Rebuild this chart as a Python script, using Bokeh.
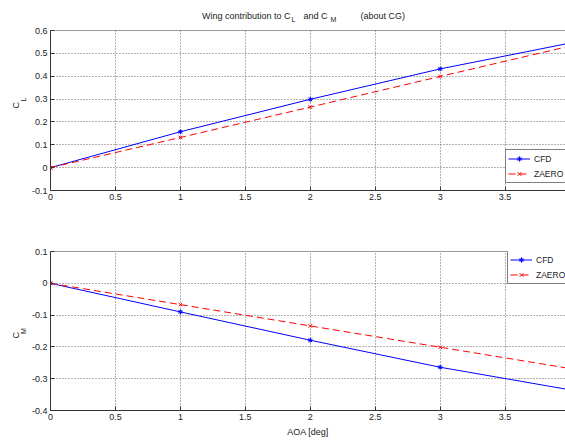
from bokeh.plotting import figure
from bokeh.layouts import column, row
from bokeh.models import (Label, Legend, LegendItem, FixedTicker, Range1d, Span)
from bokeh.embed import file_html
from bokeh.resources import INLINE

# ---- data ----
aoa = [0, 1, 2, 3, 4]
cl_cfd = [0.0, 0.157, 0.299, 0.432, 0.545]
cl_zaero = [0.0, 0.132, 0.265, 0.399, 0.532]
cm_cfd = [0.0, -0.090, -0.179, -0.264, -0.335]
cm_zaero = [0.0, -0.067, -0.134, -0.201, -0.268]

x_ticks = [0, 0.5, 1, 1.5, 2, 2.5, 3, 3.5, 4]
x_tick_labels = ["0", "0.5", "1", "1.5", "2", "2.5", "3", "3.5", "4"]
cl_ticks = [-0.1, 0, 0.1, 0.2, 0.3, 0.4, 0.5, 0.6]
cl_tick_labels = ["-0.1", "0", "0.1", "0.2", "0.3", "0.4", "0.5", "0.6"]
cm_ticks = [-0.4, -0.3, -0.2, -0.1, 0, 0.1]
cm_tick_labels = ["-0.4", "-0.3", "-0.2", "-0.1", "0", "0.1"]

title_parts = ["Wing contribution to C", "L", "and C", "M", "(about CG)"]
series_names = ["CFD", "ZAERO"]
x_label = "AOA [deg]"

FONT = "Liberation Sans"
AX = "#333333"
TXT = "#222222"


def text_fig(w, h):
    f = figure(width=w, height=h, output_backend="svg", toolbar_location=None,
               x_range=Range1d(0, w), y_range=Range1d(h, 0),
               x_axis_type=None, y_axis_type=None,
               min_border_left=0, min_border_right=0, min_border_top=0, min_border_bottom=0)
    f.outline_line_color = None
    f.grid.visible = False
    f.background_fill_color = "white"
    f.border_fill_color = "white"
    return f


def lab(f, x, y, text, size, angle=0.0, align="left"):
    f.add_layout(Label(x=x, y=y, text=text, angle=angle, text_align=align, text_baseline="middle",
                       text_font=FONT, text_font_size=size, text_color=TXT))


def style_axes(p, yticks, ylabels, ytop):
    p.outline_line_color = None
    p.background_fill_color = "white"
    p.border_fill_color = "white"
    for ax in p.xaxis + p.yaxis:
        ax.major_tick_in = 4
        ax.major_tick_out = 0
        ax.minor_tick_line_color = None
        ax.axis_line_color = AX
        ax.major_tick_line_color = AX
        ax.major_label_text_font = FONT
        ax.major_label_text_font_size = "9px"
        ax.major_label_text_color = TXT
        ax.major_label_standoff = 3
    p.xaxis.ticker = FixedTicker(ticks=x_ticks)
    p.xaxis.major_label_overrides = dict(zip(x_ticks, x_tick_labels))
    p.yaxis.ticker = FixedTicker(ticks=yticks)
    p.yaxis.major_label_overrides = dict(zip(yticks, ylabels))
    for g in (p.xgrid[0], p.ygrid[0]):
        g.grid_line_color = "#666666"
        g.grid_line_dash = "1 2"
        g.grid_line_width = 1
    p.xgrid[0].ticker = FixedTicker(ticks=x_ticks)
    p.ygrid[0].ticker = FixedTicker(ticks=yticks)
    p.add_layout(Span(location=ytop, dimension="width", line_color=AX, line_width=1))


def add_series(p, y1, y2):
    l1 = p.line(aoa, y1, line_color="#0000ff", line_width=1)
    s1 = p.scatter(aoa, y1, marker="asterisk", size=5, line_color="#0000ff")
    l2 = p.line(aoa, y2, line_color="#ff0000", line_width=1, line_dash="7 4")
    s2 = p.scatter(aoa, y2, marker="x", size=5, line_color="#ff0000")
    return [LegendItem(label=series_names[0], renderers=[l1, s1]),
            LegendItem(label=series_names[1], renderers=[l2, s2])]


def make_legend(items, loc):
    lg = Legend(items=items, location=loc, orientation="vertical")
    lg.label_text_font = FONT
    lg.label_text_font_size = "8.5px"
    lg.label_text_color = TXT
    lg.glyph_width = 22
    lg.glyph_height = 13
    lg.label_height = 13
    lg.label_standoff = 4
    lg.spacing = 2
    lg.padding = 2
    lg.margin = 0
    lg.border_line_color = "#000000"
    lg.border_line_width = 1
    lg.background_fill_color = "white"
    lg.background_fill_alpha = 1
    return lg


# ---- title strip ----
tfig = text_fig(565, 24)
lab(tfig, 290, 15, title_parts[0], "9px", align="right")
lab(tfig, 291, 18.5, title_parts[1], "7px")
lab(tfig, 303, 15, title_parts[2], "9px")
lab(tfig, 330, 18.5, title_parts[3], "7px")
lab(tfig, 360, 15, title_parts[4], "9px")

# ---- top plot (C_L) ----
p1 = figure(width=537, height=188, output_backend="svg", toolbar_location=None,
            x_range=Range1d(0, 3.965), y_range=Range1d(-0.1, 0.6),
            min_border_left=20, min_border_right=0, min_border_top=6, min_border_bottom=22)
style_axes(p1, cl_ticks, cl_tick_labels, 0.6)
items1 = add_series(p1, cl_cfd, cl_zaero)
p1.add_layout(make_legend(items1, (455, 7)), "center")

ylab1 = text_fig(28, 188)
lab(ylab1, 15, 111.7 - 24, "C", "9px", angle=1.5708, align="center")
lab(ylab1, 23, 105 - 24, "L", "7px", angle=1.5708, align="center")

# ---- bottom plot (C_M) ----
p2 = figure(width=537, height=230, output_backend="svg", toolbar_location=None,
            x_range=Range1d(0, 3.965), y_range=Range1d(-0.4, 0.1),
            min_border_left=20, min_border_right=0, min_border_top=39, min_border_bottom=32)
style_axes(p2, cm_ticks, cm_tick_labels, 0.1)
items2 = add_series(p2, cm_cfd, cm_zaero)
p2.add_layout(make_legend(items2, (457, 126)), "center")
xa = p2.below[0]
xa.axis_label = x_label
xa.axis_label_text_font = FONT
xa.axis_label_text_font_size = "9px"
xa.axis_label_text_font_style = "normal"
xa.axis_label_text_color = TXT
xa.axis_label_standoff = 4

ylab2 = text_fig(28, 230)
lab(ylab2, 15, 333 - 212, "C", "9px", angle=1.5708, align="center")
lab(ylab2, 23, 327 - 212, "M", "7px", angle=1.5708, align="center")

layout = column(tfig, row(ylab1, p1, spacing=0), row(ylab2, p2, spacing=0), spacing=0)
open("out.html", "w").write(file_html(layout, INLINE))
